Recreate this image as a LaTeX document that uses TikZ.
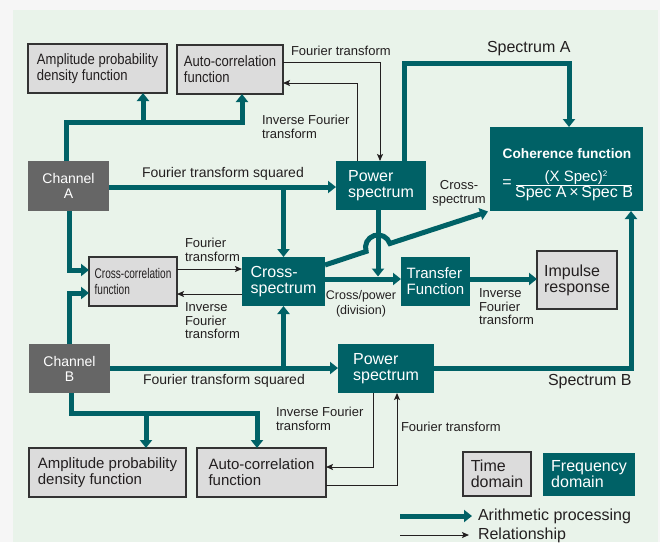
\documentclass[tikz,border=0pt]{standalone}
\usepackage{fontspec}
\setmainfont{Liberation Sans}
\newfontfamily\narrowfont[FakeStretch=0.87]{Liberation Sans}
\newfontfamily\xnarrowfont[FakeStretch=0.72]{Liberation Sans}
\usetikzlibrary{arrows.meta,calc}
\definecolor{tealc}{RGB}{0,97,102}
\definecolor{chgray}{RGB}{102,102,102}
\definecolor{boxfill}{RGB}{220,220,220}
\definecolor{boxline}{RGB}{51,51,51}
\definecolor{ink}{RGB}{35,31,32}
\definecolor{outerbg}{RGB}{246,246,246}
\definecolor{panelbg}{RGB}{233,243,234}
\begin{document}
\begin{tikzpicture}[x=1pt,y=-1pt,
  every node/.style={inner sep=0pt,outer sep=0pt},
  graybox/.style={draw=boxline,line width=1.2pt,fill=boxfill,text=ink,align=left},
  freqbox/.style={fill=tealc,text=white,align=left},
  chanbox/.style={fill=chgray,text=white,align=center},
  thk/.style={draw=tealc,line width=5pt,-{Triangle[length=8pt,width=12pt]}},
  thn/.style={draw=ink,line width=1pt,-{Stealth[length=7pt,width=6pt,inset=1.5pt]}},
  lbl/.style={text=ink,align=left,font=\fontsize{13}{13.5}\selectfont},
  f16/.style={font=\fontsize{16}{16}\selectfont},
  f15/.style={font=\fontsize{15}{16}\selectfont},
]
\useasboundingbox (0,0) rectangle (660,542);
\fill[outerbg] (0,0) rectangle (660,542);
\fill[panelbg] (13,10) rectangle (658,542);

% time-domain functions
\node[graybox,minimum width=139pt,minimum height=49pt,font=\narrowfont\fontsize{15}{16}\selectfont]
  (apdfA) at (97.5,68.5) {Amplitude probability\\density function};
\node[graybox,minimum width=106pt,minimum height=49pt,font=\narrowfont\fontsize{15}{16}\selectfont]
  (acA) at (230,69.5) {Auto-correlation\\function};
\node[graybox,minimum width=88pt,minimum height=49pt,font=\xnarrowfont\fontsize{14}{16}\selectfont]
  (ccf) at (133,281.5) {Cross-correlation\\function};
\node[graybox,minimum width=80pt,minimum height=58pt,f16]
  (ir) at (577,280) {Impulse\\response};
\node[graybox,minimum width=157pt,minimum height=49pt,f15]
  (apdfB) at (107.5,472.5) {Amplitude probability\\density function};
\node[graybox,minimum width=129pt,minimum height=49pt,f15]
  (acB) at (261.5,472.5) {Auto-correlation\\function};

% input channels
\node[chanbox,minimum width=81pt,minimum height=50pt,font=\fontsize{14}{15}\selectfont]
  (chA) at (68.5,186) {Channel\\A};
\node[chanbox,minimum width=81pt,minimum height=49pt,font=\fontsize{14}{15}\selectfont]
  (chB) at (69.5,368.5) {Channel\\B};

% frequency-domain functions
\node[freqbox,minimum width=90pt,minimum height=49pt,f16] (psA) at (381,185.5) {Power\\spectrum};
\node[freqbox,minimum width=83pt,minimum height=49pt,f16] (cs) at (283.5,281.5) {Cross-\\spectrum};
\node[freqbox,minimum width=69pt,minimum height=49pt,font=\fontsize{15}{16}\selectfont]
  (tf) at (435.5,281.5) {Transfer\\Function};
\node[freqbox,minimum width=96pt,minimum height=49pt,f16] (psB) at (386,368.5) {Power\\spectrum};
\node[freqbox,minimum width=153pt,minimum height=84pt] (coh) at (566.5,169) {};
\node[text=white,font=\bfseries\fontsize{13.7}{14}\selectfont] (cohT) at (567,154) {Coherence function};
\node[text=white,font=\fontsize{16}{16}\selectfont] (cohEq) at (507,184) {=};
\node[text=white,font=\fontsize{15}{15}\selectfont] (cohNum) at (576,177.5)
  {(X Spec)\raisebox{5pt}{\fontsize{8}{8}\selectfont 2}};
\node[text=white,font=\fontsize{16}{16}\selectfont] (cohDen) at (574,193.5) {Spec A\,×\,Spec B};
\draw[white,line width=1.2pt] (516,185.5) -- (632,185.5);

% legend boxes
\node[graybox,minimum width=68pt,minimum height=44pt,f16] (timeD) at (497,474) {Time\\domain};
\node[freqbox,minimum width=92pt,minimum height=43pt,f16] (freqD) at (589,474.5) {Frequency\\domain};

% channel A: time-domain branches
\draw[thk] (66,0 |- chA.north) -- (66,122) -| (acA.south -| 242,0);
\draw[thk] (143,122) -- (apdfA.south -| 143,0);
% channel A: power spectrum and cross-spectrum
\draw[thk] (chA.east |- 0,187) -- (psA.west |- 0,187);
\draw[thk] (cs.north |- 0,187) -- (cs.north);
\draw[thk] (69,0 |- chA.south) |- (ccf.west |- 0,270);
% channel B
\draw[thk] (69,0 |- chB.north) |- (ccf.west |- 0,293);
\draw[thk] (chB.east |- 0,368) -- (psB.west |- 0,368);
\draw[thk] (cs.south |- 0,368) -- (cs.south);
\draw[thk] (71,0 |- chB.south) |- (257,413) -- (acB.north -| 257,0);
\draw[thk] (146,413) -- (apdfB.north -| 146,0);
% transfer function and impulse response
\draw[thk] (cs.east |- 0,279) -- (tf.west |- 0,279);
\draw[thk] (tf.east |- 0,279) -- (ir.west |- 0,279);
\draw[thk] (378,0 |- psA.south) -- (378,276.5);
% cross-spectrum to coherence, hopping over the power spectrum line
\draw[thk] (cs.east |- 0,265) -- (366.14,251.4)
  arc[start angle=161.57,end angle=341.57,radius=12.5]
  -- ($(coh.south west)+(-2,0.5)$);
% spectra A and B to coherence
\draw[thk] (404,0 |- psA.north) |- (569,63) -- (coh.north -| 569,0);
\draw[thk] (psB.east |- 0,368) -| (coh.south -| 631,0);

% Fourier pairs
\draw[thn] (acA.east |- 0,62) -| (psA.north -| 380,0);
\draw[thn] (357,0 |- psA.north) |- (acA.east |- 0,83);
\draw[thn] (ccf.east |- 0,269) -- (cs.west |- 0,269);
\draw[thn] (cs.west |- 0,294) -- (ccf.east |- 0,294);
\draw[thn] (373,0 |- psB.south) |- (acB.east |- 0,467);
\draw[thn] (acB.east |- 0,485) -| (psB.south -| 397,0);

% labels
\node[lbl,anchor=west] (l1) at (291,51) {Fourier transform};
\node[lbl,anchor=west] (l2) at (262,127) {Inverse Fourier\\transform};
\node[lbl,anchor=west,font=\fontsize{14}{14}\selectfont] (l3) at (142,174) {Fourier transform squared};
\node[lbl,anchor=west,f16] (l4) at (487,49) {Spectrum A};
\node[lbl,align=center] (l5) at (459,193.5) {Cross-\\spectrum};
\node[lbl,anchor=west] (l6) at (185,250) {Fourier\\transform};
\node[lbl,anchor=west] (l7) at (185,321) {Inverse\\Fourier\\transform};
\node[lbl,align=center,font=\fontsize{12.5}{15}\selectfont] (l8) at (361,304) {Cross/power\\(division)};
\node[lbl,anchor=west] (l9) at (479,307) {Inverse\\Fourier\\transform};
\node[lbl,anchor=west,font=\fontsize{14}{14}\selectfont] (l10) at (143,381) {Fourier transform squared};
\node[lbl,anchor=west,f16] (l11) at (548,382) {Spectrum B};
\node[lbl,anchor=west] (l12) at (276,419) {Inverse Fourier\\transform};
\node[lbl,anchor=west] (l13) at (401,427) {Fourier transform};

% legend
\node[lbl,anchor=west,f16] (legA) at (478,516) {Arithmetic processing};
\node[lbl,anchor=west,f16] (legR) at (478,535) {Relationship};
\coordinate (legAs) at (400,516);
\coordinate (legRs) at (400,535);
\draw[thk] (legAs) -- ($(legA.west)+(-6,0)$);
\draw[thn] (legRs) -- ($(legR.west)+(-9,0)$);
\end{tikzpicture}
\end{document}
